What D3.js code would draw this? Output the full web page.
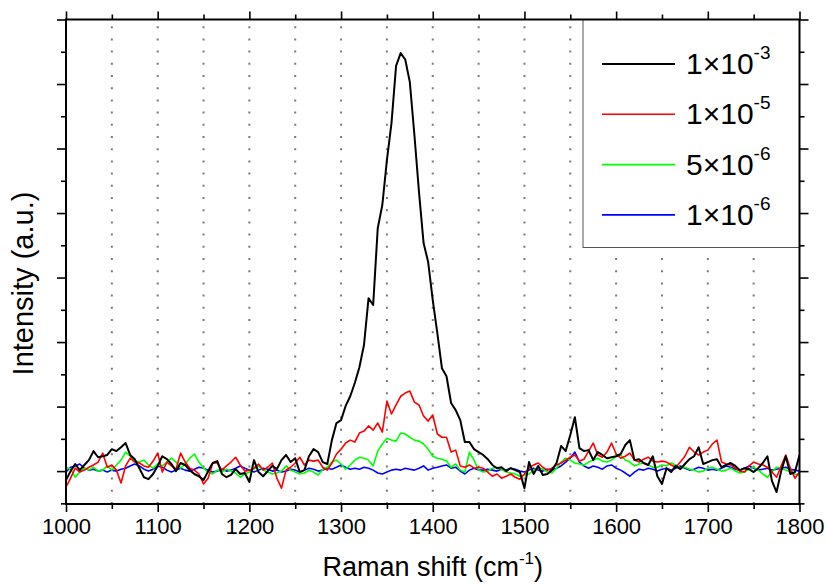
<!DOCTYPE html>
<html lang="en">
<head>
  <meta charset="utf-8">
  <title>Raman spectra</title>
  <script src="https://cdn.jsdelivr.net/npm/d3@7"></script>
  <style>
    body { margin: 0; background: #fff; }
    text { font-family: "Liberation Sans", Arial, sans-serif; fill: #000; }
  </style>
</head>
<body>
  <script>
    // Raman shift sampling (cm-1)
    const shift = d3.range(1000, 1801, 5);

    // intensities (a.u., one major tick = 1000)
    const conc1e3 = [
      -140, 0, 110, 15, 95, 170, 310, 215, 230, 250,
      340, 310, 370, 435, 250, 185, 45, -95, -125, -45,
      80, 230, 185, 110, 0, 125, 95, 15, -45, -80,
      -140, 0, 125, 155, -45, -95, -60, 30, -45, -30,
      -170, 170, -15, -80, 0, 80, 30, 170, 250, 140,
      200, -15, 15, 230, 340, 295, 140, 110, 480, 745,
      790, 1010, 1160, 1365, 1610, 1955, 2680, 2575, 3765, 4125,
      4820, 5395, 6280, 6480, 6380, 6030, 5210, 4325, 3535, 3240,
      2650, 2140, 1595, 1470, 1055, 945, 790, 450, 450, 340,
      295, 250, 185, 95, 45, 60, 0, 45, 15, -15,
      -265, 140, -45, 80, -60, -45, 15, 125, 390, 310,
      560, 835, 355, 310, 325, 170, 295, 250, 200, 215,
      230, 265, 405, 480, 170, 185, 125, 95, 230, -80,
      -200, 45, -15, 80, 30, 110, 185, 230, 370, 110,
      140, 170, 185, 60, 95, 125, 80, 15, 45, 30,
      -15, 45, 125, 230, -155, -325, 0, 230, -45, -15,
      250
    ];
    const conc1e5 = [
      -250, -110, 45, -15, 15, 60, 95, 140, 280, 60,
      95, 15, -185, 80, 200, 140, 125, 80, 60, 155,
      280, -15, 140, 80, 30, 280, 140, 45, 15, -45,
      -200, -110, 125, 125, 15, 80, 140, 215, 95, 0,
      15, 45, 110, 15, 60, 125, -110, -265, 15, 60,
      125, 215, 95, 170, 155, 170, 60, 15, 125, 265,
      340, 435, 480, 450, 590, 620, 700, 635, 745, 605,
      1085, 885, 1025, 1160, 1210, 1240, 1070, 1025, 855, 775,
      870, 575, 525, 525, 295, 325, 80, 60, 95, 45,
      60, 45, -15, -80, -45, -110, -80, -45, -95, -125,
      -45, 45, 95, 125, 60, 15, 45, 95, 125, 170,
      215, 250, 155, 185, 310, 435, 250, 215, 295, 435,
      265, 200, 230, 280, 170, 140, 185, 215, 155, 140,
      155, 140, 95, 60, 140, 230, 370, 295, 250, 295,
      325, 420, 480, 140, 110, 95, 45, 0, -15, 80,
      140, 110, 95, 60, -15, -95, 80, 250, 45, -110,
      -15
    ];
    const conc5e6 = [
      60, 30, -95, -15, 45, 15, 60, 0, 15, 80,
      15, 95, 170, 295, 230, 155, 140, 170, 95, 45,
      110, 80, 140, 200, 140, 45, 110, 200, 265, 140,
      45, -15, -45, 15, -15, 30, 0, -30, -95, -45,
      -15, 30, 80, 15, -15, -45, -30, 0, 80, 15,
      -15, -45, -30, 15, -15, -60, 30, 60, 140, 170,
      110, 30, 95, 170, 215, 200, 170, 80, 310, 420,
      510, 480, 465, 590, 575, 525, 480, 465, 420, 340,
      230, 200, 185, 155, 60, 110, 15, -15, 295, 170,
      15, -15, 0, 45, 60, 30, -15, -30, -45, -80,
      -60, -45, 15, 60, 30, -15, -30, 45, 140, 200,
      170, 125, 110, 95, 140, 170, 200, 155, 140, 170,
      230, 250, 170, 140, 80, 110, 125, 95, 60, 60,
      95, 80, 125, 95, 45, 60, 30, 15, -15, 0,
      45, 60, 30, 0, 15, 45, 0, -30, -15, 30,
      60, 15, -45, -95, -15, 60, 45, 15, 0, -45,
      -60
    ];
    const conc1e6 = [
      -15, 60, 80, 110, 45, 15, 30, 0, 15, -15,
      15, 0, 30, 45, 80, 110, 80, 30, 0, 30,
      80, 60, 15, -15, 15, 45, 15, 0, 30, 60,
      45, 15, -15, 0, 30, 0, 15, 45, 80, 45,
      15, -15, 15, 45, 30, 0, 15, -15, 0, 30,
      15, -15, 15, 45, 30, 0, 15, 45, 30, 60,
      95, 60, 30, 45, 30, 60, 45, 15, -30, -45,
      -15, 15, 30, 15, 45, 30, 15, 45, 80, 15,
      45, 60, 80, 95, 45, 60, 0, -45, 15, 45,
      15, 15, 30, 15, 0, 30, 15, 45, 30, 0,
      -15, 15, 45, 15, 0, 30, 15, 45, 80, 140,
      200, 295, 140, 80, 45, 80, 60, 30, 80, 95,
      45, 15, -30, -80, -15, 30, 15, 45, 30, 0,
      30, 45, 15, 45, 80, 45, 15, 30, 60, 45,
      15, 30, 15, 45, 80, 60, 30, 15, 45, 80,
      45, 15, 30, 45, 15, 30, 45, 60, 30, 15,
      0
    ];

    const seriesNames = ["1×10", "1×10", "5×10", "1×10"];
    const seriesExps = ["-3", "-5", "-6", "-6"];
    const seriesColors = ["#000000", "#ff0000", "#00ff00", "#0000ff"];
    const seriesValues = [conc1e3, conc1e5, conc5e6, conc1e6];

    const xMajor = [1000, 1100, 1200, 1300, 1400, 1500, 1600, 1700, 1800];
    const xMinor = [1050, 1150, 1250, 1350, 1450, 1550, 1650, 1750];
    const yMajor = [0, 1000, 2000, 3000, 4000, 5000, 6000, 7000];
    const yMinor = [-500, 500, 1500, 2500, 3500, 4500, 5500, 6500];

    const W = 826, H = 585;
    const margin = { left: 66, top: 19.5, right: 26.5, bottom: 81 };
    const width = W - margin.left - margin.right;
    const height = H - margin.top - margin.bottom;

    const svg = d3.select("body").append("svg")
      .attr("width", W).attr("height", H);
    const g = svg.append("g")
      .attr("transform", `translate(${margin.left},${margin.top})`);

    const x = d3.scaleLinear().domain([1000, 1800]).range([0, width]);
    const y = d3.scaleLinear().domain([-510, 7000]).range([height, 0]);

    g.append("defs").append("clipPath").attr("id", "plotclip")
      .append("rect").attr("width", width).attr("height", height);

    // dotted vertical grid every 50 cm-1
    const gridVals = xMajor.concat(xMinor).filter(v => v > 1000 && v < 1800);
    g.append("g").selectAll("line").data(gridVals).join("line")
      .attr("x1", d => x(d)).attr("x2", d => x(d))
      .attr("y1", height).attr("y2", 0)
      .attr("stroke", "#7a7a7a")
      .attr("stroke-width", 2)
      .attr("stroke-dasharray", "2,10.2");

    // spectra (blue first so black ends on top)
    const line = d3.line().x((d, i) => x(shift[i])).y(d => y(d));
    const drawOrder = [3, 2, 1, 0];
    g.append("g").attr("clip-path", "url(#plotclip)")
      .selectAll("path").data(drawOrder).join("path")
      .attr("d", i => line(seriesValues[i]))
      .attr("fill", "none")
      .attr("stroke", i => seriesColors[i])
      .attr("stroke-width", i => i === 0 ? 2 : 1.6)
      .attr("stroke-linejoin", "round");

    // axes: major + minor ticks, outward on all four sides
    function styleAxis(sel) {
      sel.select(".domain").remove();
      sel.selectAll(".tick line").attr("stroke", "#000").attr("stroke-width", 1.6);
    }
    const bottomMajor = g.append("g").attr("transform", `translate(0,${height})`)
      .call(d3.axisBottom(x).tickValues(xMajor).tickSize(8).tickPadding(6).tickFormat(d3.format("d")));
    styleAxis(bottomMajor);
    bottomMajor.selectAll("text").attr("font-size", 22).attr("fill", "#000");
    g.append("g").attr("transform", `translate(0,${height})`)
      .call(d3.axisBottom(x).tickValues(xMinor).tickSize(5).tickFormat(""))
      .call(styleAxis);
    g.append("g")
      .call(d3.axisTop(x).tickValues(xMajor).tickSize(8).tickFormat(""))
      .call(styleAxis);
    g.append("g")
      .call(d3.axisTop(x).tickValues(xMinor).tickSize(5).tickFormat(""))
      .call(styleAxis);
    g.append("g")
      .call(d3.axisLeft(y).tickValues(yMajor).tickSize(9).tickFormat(""))
      .call(styleAxis);
    g.append("g")
      .call(d3.axisLeft(y).tickValues(yMinor).tickSize(5).tickFormat(""))
      .call(styleAxis);
    g.append("g").attr("transform", `translate(${width},0)`)
      .call(d3.axisRight(y).tickValues(yMajor).tickSize(9).tickFormat(""))
      .call(styleAxis);
    g.append("g").attr("transform", `translate(${width},0)`)
      .call(d3.axisRight(y).tickValues(yMinor).tickSize(5).tickFormat(""))
      .call(styleAxis);

    // legend
    const legW = 216.5, legH = 228;
    const leg = g.append("g").attr("transform", `translate(${width - legW},0)`);
    leg.append("rect")
      .attr("width", legW).attr("height", legH)
      .attr("fill", "#fff").attr("stroke", "#555").attr("stroke-width", 1);
    const items = leg.selectAll("g.item").data(d3.range(seriesNames.length)).join("g")
      .attr("class", "item")
      .attr("transform", i => `translate(0,${44.5 + i * 50.3})`);
    items.append("line")
      .attr("x1", 19).attr("x2", 92).attr("y1", 0).attr("y2", 0)
      .attr("stroke", i => seriesColors[i]).attr("stroke-width", i => i === 0 ? 2 : 1.6);
    const lt = items.append("text").attr("x", 103).attr("y", 10).attr("font-size", 30);
    lt.append("tspan").text(i => seriesNames[i]);
    lt.append("tspan").attr("dy", -15).attr("font-size", 19).text(i => seriesExps[i]);

    // frame
    g.append("rect")
      .attr("width", width).attr("height", height)
      .attr("fill", "none").attr("stroke", "#000").attr("stroke-width", 2);

    // axis titles
    const xt = svg.append("text")
      .attr("x", margin.left + width / 2).attr("y", 576)
      .attr("text-anchor", "middle").attr("font-size", 27);
    xt.append("tspan").text("Raman shift (cm");
    xt.append("tspan").attr("dy", -12).attr("font-size", 17).text("-1");
    xt.append("tspan").attr("dy", 12).text(")");

    svg.append("text")
      .attr("transform", `translate(33,${margin.top + 264}) rotate(-90)`)
      .attr("text-anchor", "middle")
      .attr("font-size", 29)
      .text("Intensity (a.u.)");
  </script>
</body>
</html>
